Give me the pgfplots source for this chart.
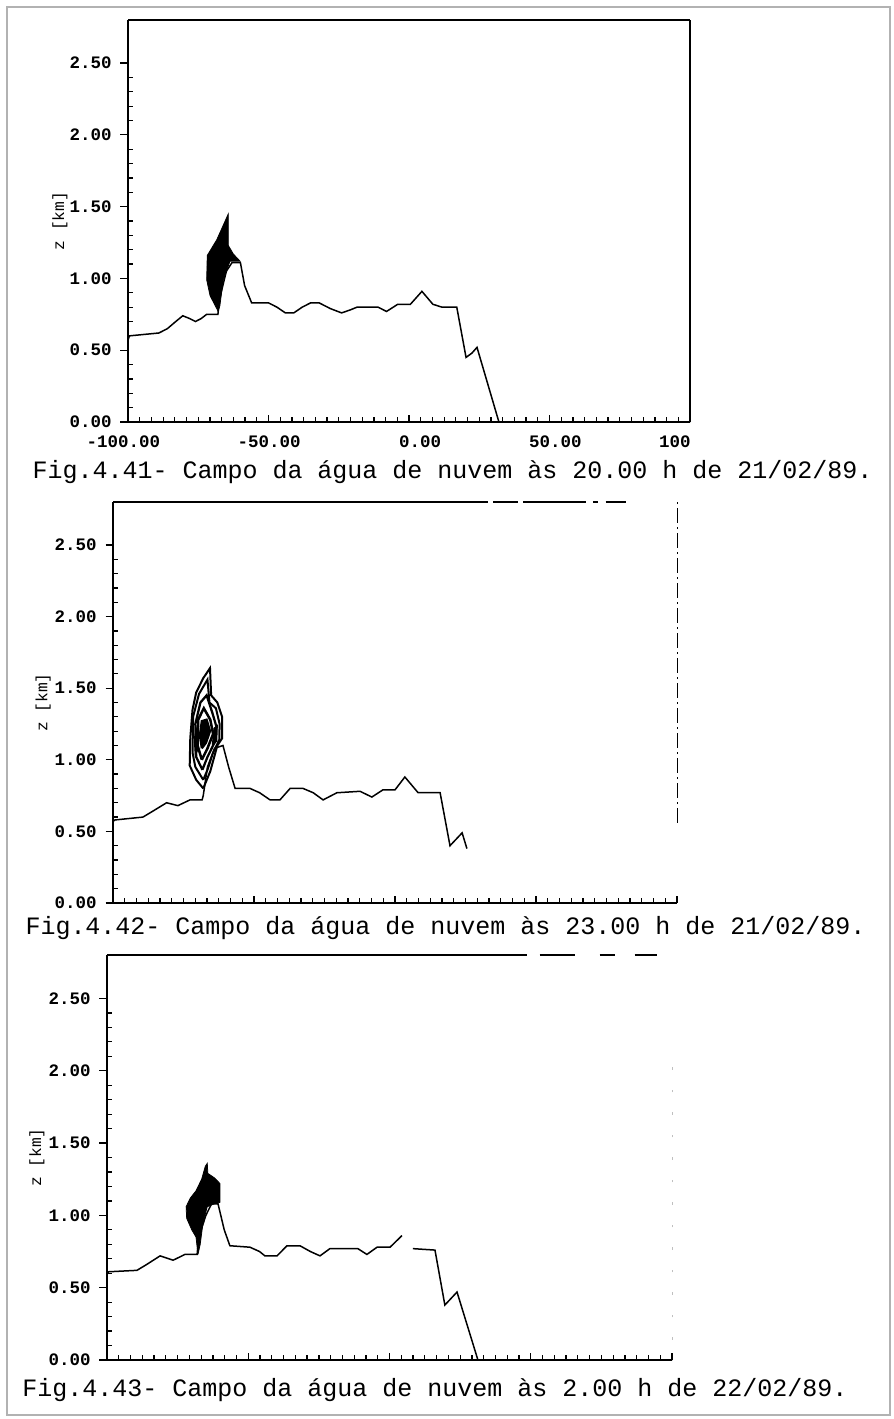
\documentclass[border=0pt]{standalone}
\usepackage{fontspec}
\setmainfont{Liberation Mono}
\usepackage{pgfplots}
\pgfplotsset{compat=1.18}
\pgfplotsset{
  panel/.style={
    scale only axis, anchor=south west,
    xmin=-100, xmax=100, ymin=0, ymax=2.8,
    axis lines=left, axis line style={-, line width=0.7pt, black},
    xtick={-100,-50,0,50,100}, minor x tick num=11,
    ytick={0,0.5,1,1.5,2,2.5},
    yticklabels={0.00,0.50,1.00,1.50,2.00,2.50},
    minor y tick num=4,
    xtick align=inside, ytick align=outside,
    major tick length=3pt, minor tick length=2pt,
    tick style={black, line width=0.5pt},
    every minor y tick/.append style={xshift=2pt},
    ticklabel style={font=\fontsize{7}{8}\selectfont\bfseries},
    ylabel={z [km]},
    ylabel style={font=\fontsize{6.5}{7}\selectfont, anchor=center},
    clip=false,
  },
  terrain/.style={black, line width=0.6pt, mark=none},
}
\begin{document}
\begin{tikzpicture}
\useasboundingbox (0,0) rectangle (357.6pt,-567.6pt);
\draw[gray!60, line width=0.8pt] (2.6pt,-2.6pt) rectangle (356pt,-566pt);

% ---------------- Panel 1 ----------------
\begin{axis}[panel, at={(51.2pt,-168.8pt)}, width=224.8pt, height=160.8pt,
  xticklabels={-100.00,-50.00,0.00,50.00,100\hphantom{.00}},
  xticklabel style={anchor=north east, xshift=16.4pt, yshift=-2pt},
  ylabel style={at={(axis description cs:-0.121,0.5)}}]
\addplot[fill=black, draw=black, line width=0.3pt] coordinates {
(-67.9,0.77) (-70.8,0.88) (-72,0.99) (-71.8,1.16) (-68.4,1.27) (-64.3,1.45)
(-64.3,1.23) (-62.5,1.17) (-60.1,1.12) (-63.7,1.12) (-66.1,0.99) (-67.3,0.81) (-67.9,0.77)};
\addplot[terrain] coordinates {
(-100,0.57) (-99.5,0.60) (-89,0.62) (-86,0.65) (-83,0.70) (-80.5,0.74) (-78,0.72)
(-76,0.70) (-74,0.72) (-72,0.75) (-68,0.75) (-67.5,0.85) (-65,1.05) (-63,1.11)
(-60,1.11) (-58.5,0.95) (-56,0.83) (-50,0.83) (-47,0.80) (-44,0.76) (-41,0.76)
(-38,0.80) (-35,0.83) (-32,0.83) (-28,0.79) (-24,0.76) (-21,0.78) (-18.5,0.80)
(-11,0.80) (-8,0.77) (-4,0.82) (0.5,0.82) (4.6,0.91) (8.5,0.82) (11.7,0.80)
(17,0.80) (20.3,0.45) (22.4,0.48) (24.2,0.52) (31.7,0.02) (32,0) (100,0)};
\draw[black, line width=1pt] (rel axis cs:0,1) -- (rel axis cs:1,1);
\draw[black, line width=0.5pt] (rel axis cs:1,0) -- (rel axis cs:1,1);
\end{axis}
\node[anchor=base west, inner sep=0, font=\fontsize{10}{12}\selectfont] at (12.8pt,-191.2pt)
  {Fig.4.41- Campo da água de nuvem às 20.00 h de 21/02/89.};

% ---------------- Panel 2 ----------------
\begin{axis}[panel, at={(45.2pt,-361.2pt)}, width=225.6pt, height=160.4pt,
  xticklabels={},
  ylabel style={at={(axis description cs:-0.124,0.5)}}]
\addplot[black, line width=0.8pt] coordinates {
(-68,0.80) (-70.5,0.86) (-72.8,0.96) (-72.6,1.15) (-71.8,1.35) (-70.5,1.47) (-68,1.57)
(-65.6,1.64) (-65.2,1.45) (-63,1.40) (-61.3,1.30) (-61.3,1.15) (-63,1.10) (-65.5,0.92) (-68,0.80)};
\addplot[black, line width=0.8pt] coordinates {
(-68,0.86) (-70.8,0.95) (-71.8,1.05) (-71.6,1.30) (-69.5,1.46) (-66.5,1.56) (-65.8,1.40)
(-63.5,1.36) (-62.2,1.25) (-62.3,1.14) (-64.5,1.05) (-66.5,0.93) (-68,0.86)};
\addplot[black, line width=0.9pt] coordinates {
(-68.3,0.93) (-70.5,1.02) (-70.8,1.25) (-69,1.40) (-66.8,1.45) (-64.8,1.33) (-63.3,1.23)
(-64,1.12) (-66.5,1.02) (-68.3,0.93)};
\addplot[black, line width=1pt] coordinates {
(-68.5,1.00) (-70,1.10) (-69.8,1.28) (-67.8,1.36) (-65.5,1.28) (-64.5,1.18) (-66.5,1.08) (-68.5,1.00)};
\addplot[fill=black, draw=black, line width=0.9pt] coordinates {
(-68.5,1.08) (-69.2,1.17) (-68.5,1.27) (-66.8,1.28) (-65.6,1.20) (-67,1.12) (-68.5,1.08)};
\addplot[fill=black, draw=black, line width=0.4pt] coordinates {
(-70.8,1.02) (-71.2,1.15) (-70.3,1.22) (-69.8,1.08) (-70.8,1.02)};
\addplot[fill=black, draw=black, line width=0.4pt] coordinates {
(-64.8,1.10) (-63.2,1.13) (-63.0,1.24) (-64.2,1.22) (-64.8,1.10)};
\addplot[terrain] coordinates {
(-100,0.57) (-99.3,0.58) (-89.4,0.60) (-86,0.64) (-81,0.70) (-77,0.68) (-72.7,0.72)
(-68.4,0.72) (-68,0.75) (-66.5,0.95) (-64,1.08) (-61,1.10) (-59,0.95) (-56.7,0.80)
(-51.4,0.80) (-48,0.77) (-44.3,0.72) (-40.8,0.72) (-37.2,0.80) (-32.6,0.80) (-29,0.77)
(-25.5,0.72) (-20.6,0.77) (-12.4,0.78) (-8.2,0.74) (-4.3,0.79) (0,0.79) (3.5,0.88)
(8.2,0.77) (15.2,0.77) (16,0.77) (19.5,0.40) (23.8,0.49) (25.5,0.38)};
\draw[black, line width=0.7pt, dash pattern=on 150pt off 2pt on 10pt off 2pt on 25pt off 3pt on 2pt off 3pt on 8pt off 30pt] (rel axis cs:0,1) -- (rel axis cs:1,1);
\draw[black, line width=0.4pt, dash pattern=on 6pt off 1.5pt on 1pt off 1.5pt] (rel axis cs:1,0.2) -- (rel axis cs:1,1);
\end{axis}
\node[anchor=base west, inner sep=0, font=\fontsize{10}{12}\selectfont] at (10pt,-373.6pt)
  {Fig.4.42- Campo da água de nuvem às 23.00 h de 21/02/89.};

% ---------------- Panel 3 ----------------
\begin{axis}[panel, at={(42.8pt,-544pt)}, width=226pt, height=162pt,
  xticklabels={},
  ylabel style={at={(axis description cs:-0.124,0.5)}}]
\addplot[fill=black, draw=black, line width=0.3pt] coordinates {
(-67.8,0.73) (-68.5,0.85) (-70,0.90) (-71.8,0.98) (-72,1.06) (-70.5,1.12) (-68.5,1.17)
(-66.5,1.25) (-65.2,1.34) (-64.5,1.36) (-64.3,1.29) (-62,1.26) (-60,1.22) (-60,1.09)
(-62,1.08) (-64.5,1.06) (-66,0.95) (-67,0.80) (-67.8,0.73)};
\addplot[terrain] coordinates {
(-100,0.59) (-99.5,0.61) (-89.4,0.62) (-86,0.66) (-81.2,0.72) (-76.6,0.69) (-72.4,0.73)
(-68.1,0.73) (-67.5,0.85) (-65,1.00) (-63,1.08) (-60.7,1.08) (-58.5,0.90) (-56.5,0.79)
(-49.4,0.78) (-46,0.75) (-44.1,0.72) (-39.8,0.72) (-36.3,0.79) (-31.7,0.79) (-28,0.75)
(-24.6,0.72) (-21.1,0.77) (-11.2,0.77) (-8,0.73) (-4.4,0.78) (0.2,0.78) (4.4,0.86)};
\addplot[terrain] coordinates {
(8.3,0.77) (16.1,0.76) (19.6,0.38) (23.9,0.47) (31.3,0) (100,0)};
\draw[black, line width=0.7pt, dash pattern=on 168pt off 5pt on 14pt off 10pt on 6pt off 8pt on 9pt off 20pt] (rel axis cs:0,1) -- (rel axis cs:1,1);
\draw[gray!50, line width=0.4pt, dash pattern=on 1pt off 8pt] (rel axis cs:1,0.05) -- (rel axis cs:1,0.76);
\end{axis}
\node[anchor=base west, inner sep=0, font=\fontsize{10}{12}\selectfont] at (8.8pt,-558.4pt)
  {Fig.4.43- Campo da água de nuvem às 2.00 h de 22/02/89.};
\end{tikzpicture}
\end{document}
